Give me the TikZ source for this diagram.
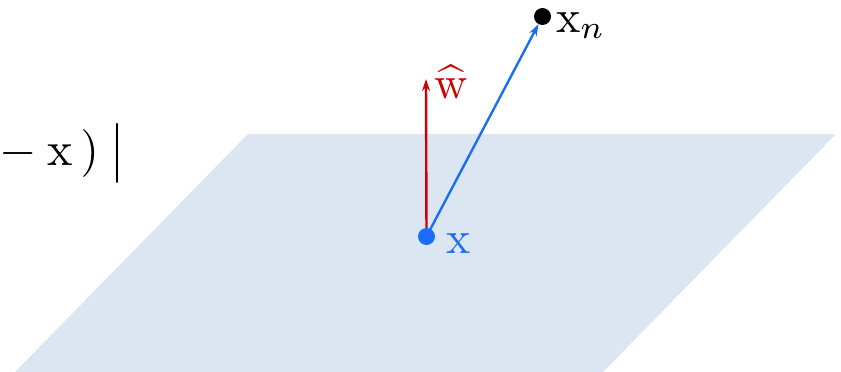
\documentclass[tikz,border=0pt]{standalone}
\usetikzlibrary{arrows.meta}
\definecolor{plane}{HTML}{DCE6F2}
\definecolor{vblue}{HTML}{1A6EF5}
\definecolor{vred}{HTML}{D00000}
\newcommand{\bigtxt}[2]{\scalebox{#1}{$#2$}}
\begin{document}
\begin{tikzpicture}[x=1pt,y=-1pt,
  lbl/.style={inner sep=0pt,anchor=base west},
  vec/.style={line width=2.4pt,-{Stealth[length=12pt,width=8pt]}}]
\clip (0,0) rectangle (841,372);
\useasboundingbox (0,0) rectangle (841,372);
\fill[plane] (248,134) -- (836,134) -- (603,372) -- (15,372) -- cycle;
\node[lbl] (formula) at (-1,165) {\bigtxt{4.8}{-\mkern4mu\mathrm{x}\mkern3mu)\mkern4mu\big|}};
\coordinate (x) at (426.5,236.5);
\coordinate (w) at (426,79);
\coordinate (xn) at (542.5,16.5);
\draw[vec,vred] (x) -- (w);
\draw[vec,vblue,shorten >=8.5pt] (x) -- (xn);
\fill[vblue] (x) circle (8.5);
\fill[black] (xn) circle (8.5);
\node[lbl,text=vblue] (xl) at (446,253) {\bigtxt{4.6}{\mathrm{x}}};
\node[lbl,text=vred] (wl) at (434,98) {\bigtxt{4.6}{\widehat{\mathrm{w}}}};
\node[lbl] (xnl) at (556,32) {\bigtxt{4.6}{\mathrm{x}_n}};
\end{tikzpicture}
\end{document}
